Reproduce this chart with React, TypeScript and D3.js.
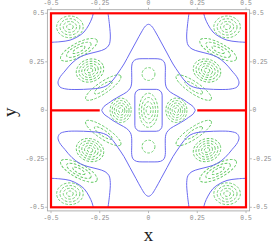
import React from 'react'
import * as d3 from 'd3'

const width = 273
const height = 245
const margin = { top: 13.3, right: 27, bottom: 37.7, left: 51 }

const tickValues = [-0.5, -0.25, 0, 0.25, 0.5]
const tickLabels = ['-0.5', '-0.25', '0', '0.25', '0.5']

const cornerArc: Array<[number, number]> = [
  [-0.5, 0.3505], [-0.4538, 0.3535], [-0.4026, 0.3615], [-0.3615, 0.3804],
  [-0.3308, 0.4036], [-0.3051, 0.4420], [-0.2897, 0.4758], [-0.2831, 0.5],
]
const lobeLine: Array<[number, number]> = [
  [-0.2077, 0.5], [-0.2, 0.4397], [-0.1959, 0.3727], [-0.2026, 0.3366], [-0.2231, 0.316],
  [-0.259, 0.3031], [-0.3103, 0.2902], [-0.3513, 0.2747], [-0.3923, 0.2438],
  [-0.4282, 0.2026], [-0.4564, 0.1665], [-0.4641, 0.1407], [-0.4538, 0.1201],
  [-0.4231, 0.1098], [-0.3667, 0.1072], [-0.3, 0.1098], [-0.2487, 0.1149],
  [-0.2128, 0.1278], [-0.1821, 0.1562], [-0.1564, 0.1923], [-0.1256, 0.2387],
  [-0.0949, 0.2954], [-0.0641, 0.3521], [-0.0359, 0.4036], [-0.0154, 0.4345], [0, 0.4433],
]
const crossLine: Array<[number, number]> = [
  [-0.24, 0], [-0.228, 0.02], [-0.206, 0.036], [-0.182, 0.053], [-0.146, 0.074],
  [-0.112, 0.094], [-0.093, 0.115], [-0.087, 0.136], [-0.086, 0.182], [-0.086, 0.228],
  [-0.08, 0.25], [-0.062, 0.263], [-0.033, 0.266], [0, 0.266],
]
const coreBox = { halfW: 0.07, halfH: 0.108, corner: 0.03 }

// wall along y = 0
const wallEnd = 0.25

// extrema (dashed ring groups), upper-left quarter, mirrored to all four
const quadBlobX = [-0.403, -0.357, -0.3, -0.232]
const quadBlobY = [0.43, 0.312, 0.205, 0.117]
const quadBlobRx = [0.068, 0.105, 0.072, 0.108]
const quadBlobRy = [0.056, 0.036, 0.058, 0.03]
const quadBlobTilt = [0, 28, 20, 34]
const quadBlobRings = [4, 3, 5, 2]

// extrema on the axes
const axisBlobX = [-0.143, 0.143, 0, 0, 0]
const axisBlobY = [0, 0, 0, 0.187, -0.187]
const axisBlobRx = [0.054, 0.054, 0.048, 0.033, 0.033]
const axisBlobRy = [0.063, 0.063, 0.088, 0.033, 0.033]
const axisBlobRings = [5, 5, 4, 1, 1]

const mirrorX = (pts: Array<[number, number]>) =>
  pts.map(([a, b]) => [-a, b] as [number, number]).reverse()
const flipY = (pts: Array<[number, number]>) => pts.map(([a, b]) => [a, -b] as [number, number])

const App: React.FC = () => {
  const innerW = width - margin.left - margin.right
  const innerH = height - margin.top - margin.bottom
  const x = d3.scaleLinear().domain([-0.5, 0.5]).range([margin.left, margin.left + innerW])
  const y = d3.scaleLinear().domain([-0.5, 0.5]).range([margin.top + innerH, margin.top])

  const line = d3
    .line<[number, number]>()
    .x((d) => x(d[0]))
    .y((d) => y(d[1]))
    .curve(d3.curveCatmullRom.alpha(0.5))

  const lobeUpper = [...lobeLine, ...mirrorX(lobeLine).slice(1)]
  const crossUpper = [...crossLine, ...mirrorX(crossLine).slice(1)]
  const blueCurves: Array<Array<[number, number]>> = [
    cornerArc,
    mirrorX(cornerArc),
    flipY(cornerArc),
    flipY(mirrorX(cornerArc)),
    lobeUpper,
    flipY(lobeUpper),
    crossUpper,
    flipY(crossUpper),
  ]

  const blobs: Array<{ cx: number; cy: number; rx: number; ry: number; tilt: number; rings: number }> = []
  quadBlobX.forEach((bx, i) => {
    ;[1, -1].forEach((sx) => {
      ;[1, -1].forEach((sy) => {
        blobs.push({
          cx: bx * sx,
          cy: quadBlobY[i] * sy,
          rx: quadBlobRx[i],
          ry: quadBlobRy[i],
          tilt: quadBlobTilt[i] * sx * sy,
          rings: quadBlobRings[i],
        })
      })
    })
  })
  axisBlobX.forEach((bx, i) => {
    blobs.push({ cx: bx, cy: axisBlobY[i], rx: axisBlobRx[i], ry: axisBlobRy[i], tilt: 0, rings: axisBlobRings[i] })
  })

  const kx = x(1) - x(0)
  const ky = y(0) - y(1)
  const pad = 3.6
  const fx0 = x(-0.5) - pad
  const fx1 = x(0.5) + pad
  const fy0 = y(0.5) - pad
  const fy1 = y(-0.5) + pad
  const gray = '#a8a8a8'
  const labelStyle = { fontFamily: '"Liberation Mono", "DejaVu Sans Mono", monospace', fontSize: 6.3, fill: '#8a8a8a' }

  return (
    <svg width={width} height={height} style={{ position: 'absolute', left: 0, top: 0 }}>
      <defs>
        <clipPath id="plot-clip">
          <rect x={x(-0.5)} y={y(0.5)} width={innerW} height={innerH} />
        </clipPath>
      </defs>

      {/* frame */}
      <rect x={fx0} y={fy0} width={fx1 - fx0} height={fy1 - fy0} fill="none" stroke={gray} strokeWidth={0.9} />
      {tickValues.map((t, i) => (
        <g key={`t${i}`}>
          <line x1={x(t)} x2={x(t)} y1={fy0} y2={fy0 - 2.2} stroke={gray} strokeWidth={0.8} />
          <line x1={x(t)} x2={x(t)} y1={fy1} y2={fy1 + 2.2} stroke={gray} strokeWidth={0.8} />
          <line x1={fx0} x2={fx0 - 2.2} y1={y(t)} y2={y(t)} stroke={gray} strokeWidth={0.8} />
          <line x1={fx1} x2={fx1 + 2.2} y1={y(t)} y2={y(t)} stroke={gray} strokeWidth={0.8} />
          <text x={x(t)} y={5.2} textAnchor="middle" style={labelStyle}>{tickLabels[i]}</text>
          <text x={x(t)} y={219.6} textAnchor="middle" style={labelStyle}>{tickLabels[i]}</text>
          <text x={44.3} y={y(t) + 2.1} textAnchor="end" style={labelStyle}>{tickLabels[i]}</text>
          <text x={252.4} y={y(t) + 2.1} textAnchor="start" style={labelStyle}>{tickLabels[i]}</text>
        </g>
      ))}

      <g clipPath="url(#plot-clip)">
        {/* dashed rings */}
        {blobs.map((b, i) =>
          d3.range(1, b.rings + 1).map((k) => {
            const f = k / b.rings
            return (
              <ellipse
                key={`b${i}-${k}`}
                cx={x(b.cx)}
                cy={y(b.cy)}
                rx={b.rx * kx * f}
                ry={b.ry * ky * f}
                transform={`rotate(${-b.tilt} ${x(b.cx)} ${y(b.cy)})`}
                fill="none"
                stroke="#62c962"
                strokeWidth={0.9}
                strokeDasharray="2.6 1.6"
              />
            )
          })
        )}

        {/* solid nodal lines */}
        {blueCurves.map((c, i) => (
          <path key={`c${i}`} d={line(c) ?? ''} fill="none" stroke="#6a6af0" strokeWidth={1} />
        ))}
        <rect
          x={x(-coreBox.halfW)}
          y={y(coreBox.halfH)}
          width={2 * coreBox.halfW * kx}
          height={2 * coreBox.halfH * ky}
          rx={coreBox.corner * kx}
          fill="none"
          stroke="#6a6af0"
          strokeWidth={1}
        />
      </g>

      {/* walls */}
      <rect x={x(-0.5)} y={y(0.5)} width={innerW} height={innerH} fill="none" stroke="#ff0000" strokeWidth={2.2} />
      <line x1={x(-0.5)} x2={x(-wallEnd)} y1={y(0)} y2={y(0)} stroke="#ff0000" strokeWidth={2.2} />
      <line x1={x(wallEnd)} x2={x(0.5)} y1={y(0)} y2={y(0)} stroke="#ff0000" strokeWidth={2.2} />

      {/* axis labels */}
      <text x={x(0)} y={240.5} textAnchor="middle" style={{ fontFamily: '"Liberation Serif", serif', fontSize: 19, fill: '#222' }}>
        x
      </text>
      <text
        transform={`translate(15.6, ${y(0) + 2}) rotate(-90)`}
        textAnchor="middle"
        style={{ fontFamily: '"Liberation Serif", serif', fontSize: 19, fill: '#222' }}
      >
        y
      </text>
    </svg>
  )
}

export default App
